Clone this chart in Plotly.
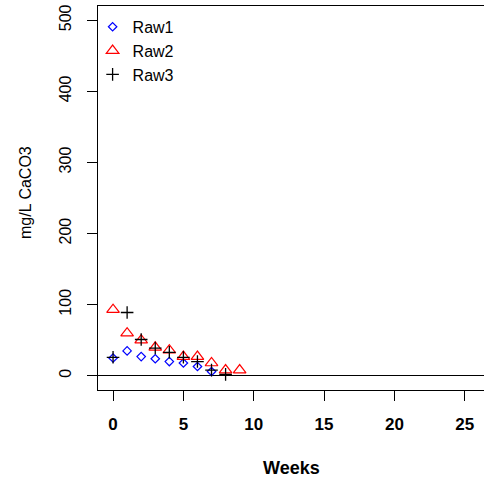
import plotly.graph_objects as go

weeks1 = [0, 1, 2, 3, 4, 5, 6, 7]
raw1 = [25, 35, 27, 24, 20, 18, 13, 6]
weeks2 = [0, 1, 2, 3, 4, 5, 6, 7, 8, 9]
raw2 = [93, 60, 50, 40, 36, 27, 27, 18, 8, 8]
weeks3 = [0, 1, 2, 3, 4, 5, 6, 7, 8]
raw3 = [26, 89, 51, 39, 33, 26, 20, 8, 2]

x_ticks = [0, 5, 10, 15, 20, 25]
y_ticks = [0, 100, 200, 300, 400, 500]

FONT = "Liberation Sans, Arial, sans-serif"

fig = go.Figure()
fig.add_trace(go.Scatter(x=weeks1, y=raw1, mode="markers", name="Raw1",
                         marker=dict(symbol="diamond-open", size=6.5, color="#0000FF",
                                     line=dict(color="#0000FF", width=1.2))))
fig.add_trace(go.Scatter(x=weeks2, y=raw2, mode="markers", name="Raw2",
                         marker=dict(symbol="triangle-up-open", size=11, color="#FF0000",
                                     line=dict(color="#FF0000", width=1.2))))
fig.add_trace(go.Scatter(x=weeks3, y=raw3, mode="markers", name="Raw3",
                         marker=dict(symbol="cross-thin-open", size=9, color="#000000",
                                     line=dict(color="#000000", width=1.3))))

fig.update_layout(
    width=484, height=480,
    margin=dict(l=98, r=0, t=6, b=90),
    paper_bgcolor="white", plot_bgcolor="white",
    font=dict(family=FONT, color="black", size=16),
    showlegend=True,
    legend=dict(x=-0.014, y=0.99, xanchor="left", yanchor="top",
                bgcolor="rgba(0,0,0,0)", borderwidth=0,
                font=dict(size=16), tracegroupgap=0, itemsizing="trace"),
    xaxis=dict(range=[-1.07, 26.37], tickvals=x_ticks, ticktext=[str(v) for v in x_ticks],
               showgrid=False, zeroline=False, showline=True, mirror=True,
               linecolor="black", linewidth=1.2, ticks="outside", ticklen=10,
               tickwidth=1.2, tickcolor="black", ticklabelstandoff=8,
               tickfont=dict(family=FONT, size=17, weight="bold")),
    yaxis=dict(range=[-20, 520], tickvals=y_ticks, ticktext=[str(v) for v in y_ticks],
               showgrid=False, zeroline=True, zerolinecolor="black", zerolinewidth=1.2,
               showline=True, mirror=False, linecolor="black", linewidth=1.2,
               ticks="outside", ticklen=10, tickwidth=1.2, tickcolor="black",
               tickangle=-90, ticklabelstandoff=10, tickfont=dict(family=FONT, size=16)),
    annotations=[
        dict(text="Weeks", xref="paper", yref="paper", x=0.5, y=0, yshift=-78,
             showarrow=False, xanchor="center", yanchor="middle",
             font=dict(family=FONT, size=18, weight="bold")),
        dict(text="mg/L CaCO3", xref="paper", yref="paper", x=0, y=0.5, xshift=-73,
             yshift=5, showarrow=False, xanchor="center", yanchor="middle", textangle=-90,
             font=dict(family=FONT, size=16)),
    ],
)

fig.write_html("out.html")
